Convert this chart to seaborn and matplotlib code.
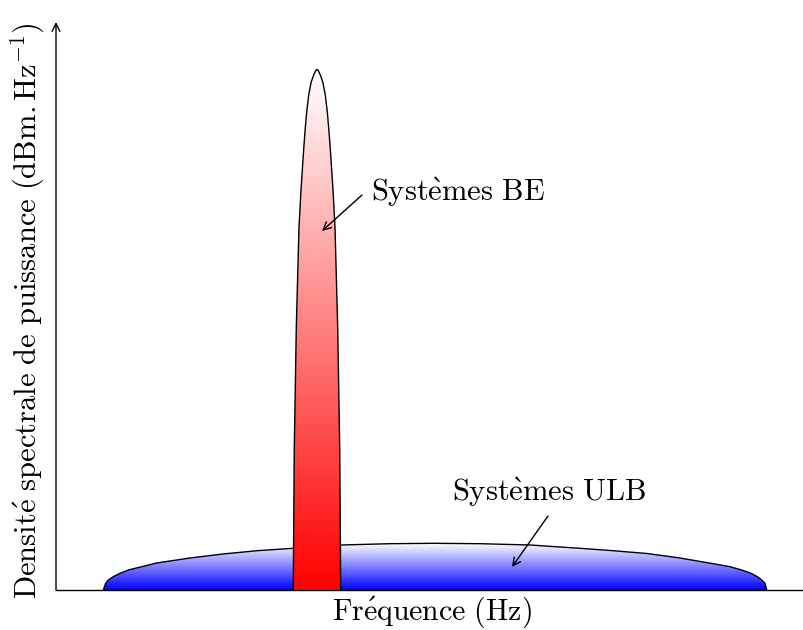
import matplotlib
matplotlib.use('Agg')
import matplotlib.pyplot as plt
import numpy as np
import seaborn as sns
from matplotlib.colors import LinearSegmentedColormap

# outline of the narrowband (BE) peak: frequency position, power density
be_freq = [237.3, 238.2, 240.3, 243, 245, 247.5, 249.2, 250.7, 252.7, 255.2,
           257.7, 259.5, 261, 262.5, 264.3, 266.8, 269.3, 271.3, 272.8,
           274.5, 277, 279, 281.7, 283.8, 284.7]
be_level = [0, 137, 263, 363, 400, 438, 461, 478, 495, 508,
            515, 519, 520.7, 519, 515, 508, 495, 478, 461,
            438, 400, 363, 263, 137, 0]

# outline of the ultra wide band (ULB) spectrum
ulb_freq = [47.3, 49.7, 52.3, 57.3, 64, 72.3, 85.7, 100.7, 134, 167, 201,
            237, 285, 334, 377, 424, 474, 524, 557, 591, 624, 659, 674,
            685.7, 695, 701.3, 705.7, 709, 710.7]
ulb_level = [0, 6.7, 10, 13.3, 16.7, 20, 23.3, 27, 32, 36, 39.3,
             41.7, 45, 46.3, 46.7, 46.3, 45, 41.7, 39.3, 36.5, 32, 26, 23.3,
             20, 16.7, 13.3, 10, 6.7, 0]

sns.set_theme(style='white')
plt.rcParams['mathtext.fontset'] = 'cm'
plt.rcParams['font.family'] = ['cmr10', 'DejaVu Serif']
plt.rcParams['text.color'] = 'black'

fig = plt.figure(figsize=(8.04, 6.30), dpi=100)
ax = fig.add_axes([56 / 804, 40 / 630, 748 / 804, 568 / 630])


def gradient_shape(xs, ys, color, z):
    cmap = LinearSegmentedColormap.from_list('g', [color, 'white'])
    poly = ax.fill(xs, ys, facecolor='none', edgecolor='none', zorder=z)[0]
    grad = np.linspace(0, 1, 256).reshape(-1, 1)
    im = ax.imshow(grad, cmap=cmap, origin='lower', aspect='auto',
                   extent=(min(xs), max(xs), 0, max(ys)), zorder=z)
    im.set_clip_path(poly)
    sns.lineplot(x=xs, y=ys, sort=False, color='black', lw=1.0, ax=ax,
                 zorder=z + 0.5)


gradient_shape(ulb_freq, ulb_level, 'blue', 2)
gradient_shape(be_freq, be_level, 'red', 4)
ax.set_xlim(0, 748)
ax.set_ylim(0, 568)

for s in ['top', 'right', 'left']:
    ax.spines[s].set_visible(False)
ax.spines['bottom'].set_color('black')
ax.spines['bottom'].set_linewidth(1.0)
ax.set_xticks([])
ax.set_yticks([])
arrow = dict(arrowstyle='->', lw=1.0, color='black', shrinkA=0, shrinkB=0,
             mutation_scale=14)
ax.annotate('', xy=(0, 568), xytext=(0, 0), annotation_clip=False,
            arrowprops=arrow)

# annotations
ax.text(315, 398, r'$\mathrm{Syst\grave{e}mes\ BE}$', fontsize=22,
        va='center', ha='left', zorder=10)
ax.annotate('', xy=(266, 359), xytext=(306, 395), arrowprops=arrow, zorder=10)
ax.text(493.5, 98, r'$\mathrm{Syst\grave{e}mes\ ULB}$', fontsize=22,
        va='center', ha='center', zorder=10)
ax.annotate('', xy=(456, 23), xytext=(492, 74), arrowprops=arrow, zorder=10)

fig.text(432 / 804, 1 - 612 / 630, r'$\mathrm{Fr\acute{e}quence\ (Hz)}$',
         fontsize=21.5, ha='center', va='center')
fig.text(28 / 804, 1 - 311 / 630,
         r'$\mathrm{Densit\acute{e}\ spectrale\ de\ puissance\ (dBm.Hz}^{-1}\mathrm{)}$',
         fontsize=22, ha='center', va='center', rotation=90)

fig.savefig('out.png', dpi=100)
